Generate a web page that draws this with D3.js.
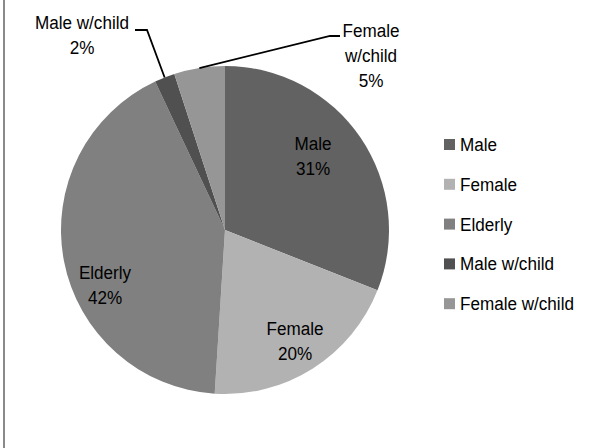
<!DOCTYPE html>
<html>
<head>
<meta charset="utf-8">
<script src="https://cdn.jsdelivr.net/npm/d3@7"></script>
<style>
  html, body { margin: 0; padding: 0; background: #fff; }
  svg { display: block; font-family: "Liberation Sans", Arial, sans-serif; }
</style>
</head>
<body>
<svg id="chart" width="598" height="448"></svg>
<script>
// Household composition shares (percent)
const categories = ["Male", "Female", "Elderly", "Male w/child", "Female w/child"];
const values = [31, 20, 42, 2, 5];
const colors = ["#626262", "#b2b2b2", "#808080", "#505050", "#969696"];

const svg = d3.select("#chart");
const W = 598, H = 448;
const cx = 225, cy = 230, R = 164;
const FS = 19, SX = 0.9; // font size and horizontal condensing of the text

// left frame edge
svg.append("rect").attr("x", 3).attr("y", 0).attr("width", 2).attr("height", H).attr("fill", "#8a8a8a");

const data = categories.map((c, i) => ({ name: c, value: values[i], color: colors[i] }));
const pie = d3.pie().sort(null).value(d => d.value).startAngle(0).endAngle(2 * Math.PI);
const arcs = pie(data);
const arc = d3.arc().innerRadius(0).outerRadius(R);

const g = svg.append("g").attr("transform", `translate(${cx},${cy})`);
g.selectAll("path.slice").data(arcs).join("path")
  .attr("class", "slice")
  .attr("d", arc)
  .attr("fill", d => d.data.color);

// label placements (offsets relative to pie centre) and leader-line elbow/end
const labelPos = {
  "Male": { x: 88, y: -80 },
  "Female": { x: 70, y: 105 },
  "Elderly": { x: -120, y: 49 },
  "Male w/child": { x: -143, y: -201, lead: [[-78, -200], [-90, -200]] },
  "Female w/child": { x: 146, y: -193, lead: [[105, -194], [115, -194]] }
};

arcs.forEach(a => {
  const p = labelPos[a.data.name];
  if (p.lead) {
    const mid = (a.startAngle + a.endAngle) / 2;
    const ex = R * Math.sin(mid), ey = -R * Math.cos(mid);
    g.append("path")
      .attr("d", d3.line()([[ex, ey], p.lead[0], p.lead[1]]))
      .attr("fill", "none")
      .attr("stroke", "#000")
      .attr("stroke-width", 1.8);
  }
  const words = a.data.name === "Female w/child" ? ["Female", "w/child"] : [a.data.name];
  const lines = words.concat([a.data.value + "%"]);
  const t = g.append("g")
    .attr("transform", `translate(${p.x},0) scale(${SX},1)`)
    .append("text")
    .attr("text-anchor", "middle")
    .attr("font-size", FS)
    .attr("fill", "#000");
  lines.forEach((ln, i) => {
    t.append("tspan").attr("x", 0).attr("y", p.y + i * 25).text(ln);
  });
});

// legend
const legend = svg.append("g").attr("transform", "translate(444,144.5)");
const rows = legend.selectAll("g").data(data).join("g")
  .attr("transform", (d, i) => `translate(0,${i * 39.8})`);
rows.append("rect").attr("x", 0).attr("y", -5.5).attr("width", 11).attr("height", 11).attr("fill", d => d.color);
rows.append("g").attr("transform", `translate(16,0) scale(${SX},1)`)
  .append("text").attr("x", 0).attr("y", 6.5).attr("font-size", FS).attr("fill", "#000").text(d => d.name);
</script>
</body>
</html>
